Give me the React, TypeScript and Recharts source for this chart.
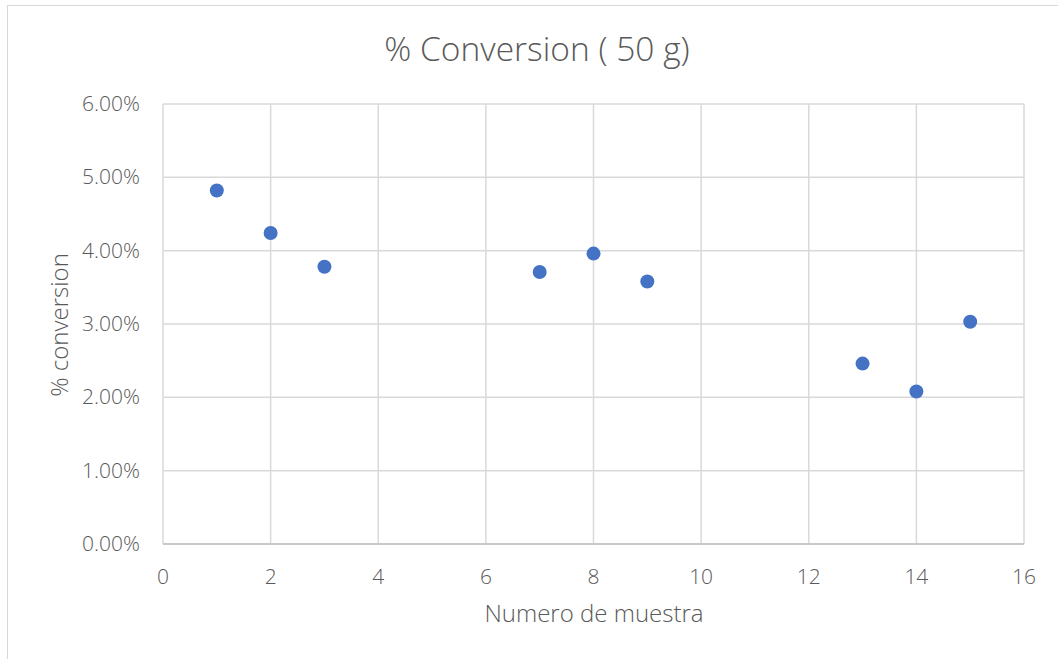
import React from "react";
import { ScatterChart, Scatter, XAxis, YAxis, CartesianGrid } from "recharts";

const sampleNumbers = [1, 2, 3, 7, 8, 9, 13, 14, 15];
const conversionValues = [0.0482, 0.0424, 0.0378, 0.0371, 0.0396, 0.0358, 0.0246, 0.0208, 0.0303];
const xTicks = [0, 2, 4, 6, 8, 10, 12, 14, 16];
const yTicks = [0, 0.01, 0.02, 0.03, 0.04, 0.05, 0.06];
const chartTitle = "% Conversion ( 50 g)";
const xTitle = "Numero de muestra";
const yTitle = "% conversion";

const data = sampleNumbers.map((x, i) => ({ x, y: conversionValues[i] }));

const FONT = "'Open Sans', sans-serif";
const TEXT = "#595959";

const XTick = (p: any) => (
  <text x={p.x} y={p.y} textAnchor="middle" fill={TEXT} fontSize={21} fontFamily={FONT} fontWeight={300}>
    {p.payload.value}
  </text>
);

const YTick = (p: any) => (
  <text x={p.x} y={p.y} dy={7} textAnchor="end" fill={TEXT} fontSize={21} fontFamily={FONT} fontWeight={300}>
    {(p.payload.value * 100).toFixed(2) + "%"}
  </text>
);

export default function App() {
  return (
    <div style={{ position: "absolute", left: 0, top: 0, width: 1058, height: 659, background: "#fff", overflow: "hidden" }}>
      <div style={{ position: "absolute", left: 7, top: 5, width: 1100, height: 700, border: "1px solid #d9d9d9", boxSizing: "border-box" }} />
      <ScatterChart width={1058} height={659} margin={{ top: 104, right: 34, left: 63, bottom: 35 }}>
        <CartesianGrid stroke="#d9d9d9" strokeWidth={1.5} />
        <XAxis
          type="number"
          dataKey="x"
          domain={[0, 16]}
          ticks={xTicks}
          height={80}
          axisLine={{ stroke: "#bfbfbf", strokeWidth: 1.5 }}
          tickLine={false}
          tickSize={0}
          tickMargin={40}
          tick={<XTick />}
        />
        <YAxis
          type="number"
          dataKey="y"
          domain={[0, 0.06]}
          ticks={yTicks}
          width={100}
          axisLine={false}
          tickLine={false}
          tickSize={0}
          tickMargin={23}
          tick={<YTick />}
        />
        <Scatter data={data} fill="#4472C4" isAnimationActive={false} shape={(p: any) => <circle cx={p.cx} cy={p.cy} r={7} fill="#4472C4" />} />
      </ScatterChart>
      <svg width={1058} height={659} style={{ position: "absolute", left: 0, top: 0, pointerEvents: "none" }}>
        <text x={537} y={61} textAnchor="middle" fill={TEXT} fontSize={33.5} fontFamily={FONT} fontWeight={300}>{chartTitle}</text>
        <text x={594} y={622} textAnchor="middle" fill={TEXT} fontSize={24} fontFamily={FONT} fontWeight={300}>{xTitle}</text>
        <text x={68} y={325} textAnchor="middle" fill={TEXT} fontSize={24} fontFamily={FONT} fontWeight={300} transform="rotate(-90 68 325)">{yTitle}</text>
      </svg>
    </div>
  );
}
